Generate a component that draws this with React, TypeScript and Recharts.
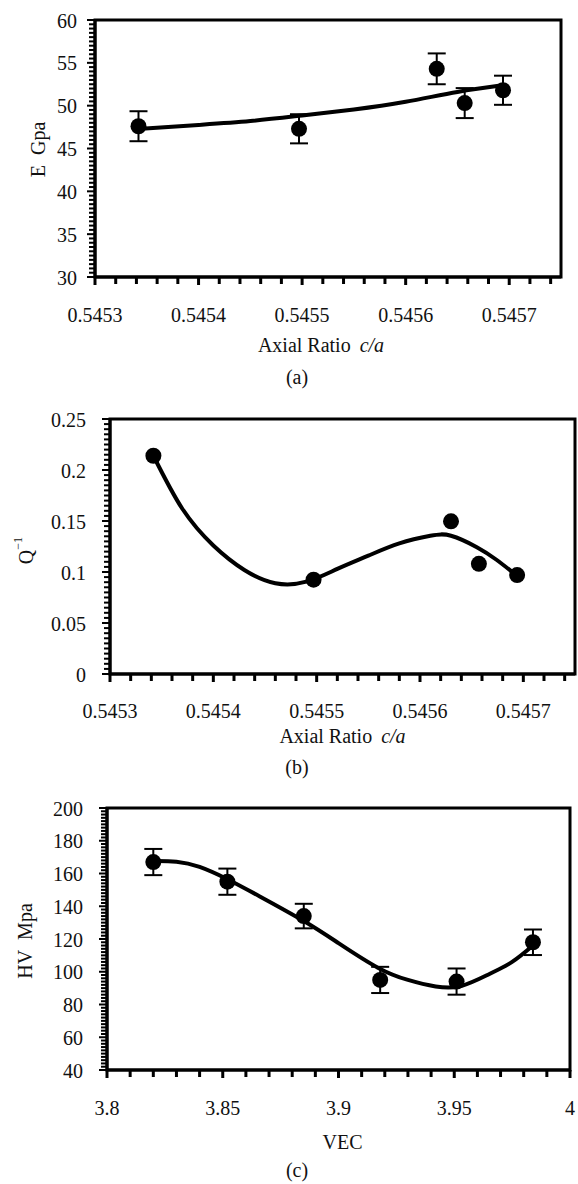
import React from "react";
import {
  ComposedChart,
  XAxis,
  YAxis,
  Line,
  Scatter,
  ErrorBar,
  ReferenceArea,
} from "recharts";

// (a) and (b): axial ratio c/a of the five samples
const axialRatio = [0.545342, 0.545497, 0.54563, 0.545657, 0.545694];
const modulusE = [47.6, 47.3, 54.3, 50.3, 51.8];
const modulusErr = [1.75, 1.7, 1.8, 1.75, 1.7];
const modulusFitX = [0.545345, 0.5454, 0.54545, 0.5455, 0.54555, 0.5456, 0.54565, 0.545695];
const modulusFitY = [47.3, 47.75, 48.2, 48.85, 49.55, 50.45, 51.6, 52.4];

const dampingQ = [0.214, 0.0925, 0.1497, 0.108, 0.097];
const dampingFitX = [
  0.545342, 0.54537, 0.5454, 0.54543, 0.54546, 0.54549, 0.54552, 0.54555,
  0.54558, 0.54561, 0.54563, 0.545655, 0.545674, 0.545693,
];
const dampingFitY = [
  0.214, 0.162, 0.126, 0.102, 0.089, 0.0905, 0.103, 0.116, 0.128, 0.1355,
  0.1355, 0.1243, 0.112, 0.097,
];

// (c): valence electron concentration
const vec = [3.82, 3.852, 3.885, 3.918, 3.951, 3.984];
const hardnessHV = [167, 155, 134, 95, 94, 118];
const hardnessErr = [8, 8, 7.5, 8, 8, 7.8];
const hardnessFitX = [3.82, 3.83, 3.84, 3.852, 3.866, 3.885, 3.9, 3.917, 3.93, 3.942, 3.953, 3.965, 3.975, 3.984];
const hardnessFitY = [167.6, 167.2, 164.0, 156.5, 146, 131, 117.5, 102.5, 95, 91, 91.3, 98.5, 106, 116];

// tick labels
const ratioTicks = [0.5453, 0.5454, 0.5455, 0.5456, 0.5457];
const modulusTicks = [30, 35, 40, 45, 50, 55, 60];
const dampingTicks = [0, 0.05, 0.1, 0.15, 0.2, 0.25];
const vecTicks = [3.8, 3.85, 3.9, 3.95, 4];
const hardnessTicks = [40, 60, 80, 100, 120, 140, 160, 180, 200];

const FONT = '"Liberation Serif", "Times New Roman", Times, serif';
const textStyle = { fontFamily: FONT, fontSize: 20, fill: "#111" };

const steps = (lo: number, hi: number, step: number) => {
  const n = Math.round((hi - lo) / step);
  return Array.from({ length: n + 1 }, (_, i) => +(lo + i * step).toFixed(8));
};

const zip = (xs: number[], ys: number[], es?: number[]) =>
  xs.map((x, i) => ({ x, y: ys[i], err: es ? es[i] : 0 }));

type PanelProps = {
  top: number;
  height: number;
  plot: { l: number; r: number; t: number; b: number };
  xDomain: [number, number];
  yDomain: [number, number];
  xMajor: number[];
  xMinor: number[];
  yMajor: number[];
  yMinor: number[];
  points: { x: number; y: number; err: number }[];
  fit: { x: number; y: number; err: number }[];
  withErr: boolean;
  xTitle: React.ReactNode;
  xTitleDx: number;
  xTitleDy: number;
  yTitle: React.ReactNode;
  yTitleX: number;
  yTitleDy: number;
  yGap: number;
  caption: string;
  captionDy: number;
  tickDy: number;
};

function Panel(p: PanelProps) {
  const W = 578;
  const xTol = (p.xMinor[1] - p.xMinor[0]) / 10;
  const yTol = (p.yMinor[1] - p.yMinor[0]) / 10;
  const xAxisH = p.top + p.height - p.plot.b;

  const xTick = (props: any) => {
    const { x, y, payload } = props;
    const major = p.xMajor.find((m) => Math.abs(m - payload.value) < xTol);
    return (
      <g>
        <line x1={x} x2={x} y1={y} y2={y + (major !== undefined ? 8 : 7)} stroke="#000" strokeWidth={3} />
        {major !== undefined && (
          <text x={x} y={y + p.tickDy} textAnchor="middle" style={textStyle}>
            {String(major)}
          </text>
        )}
      </g>
    );
  };

  const yTick = (props: any) => {
    const { x, y, payload } = props;
    const major = p.yMajor.find((m) => Math.abs(m - payload.value) < yTol);
    return (
      <g>
        <line x1={x - (major !== undefined ? 8 : 6)} x2={x} y1={y} y2={y} stroke="#000" strokeWidth={2} />
        {major !== undefined && (
          <text x={x - p.yGap} y={y + 7.5} textAnchor="end" style={textStyle}>
            {String(major)}
          </text>
        )}
      </g>
    );
  };

  const xLabel = (props: any) => {
    const vb = props.viewBox || {};
    const vx = vb.x ?? p.plot.l;
    const vw = vb.width ?? p.plot.r - p.plot.l;
    const vy = vb.y ?? p.plot.b - p.top;
    return (
      <g>
        <text x={vx + vw / 2 + p.xTitleDx} y={vy + p.xTitleDy} textAnchor="middle" style={textStyle}>
          {p.xTitle}
        </text>
        <text x={297} y={vy + p.captionDy} textAnchor="middle" style={textStyle}>
          {p.caption}
        </text>
      </g>
    );
  };

  const yLabel = (props: any) => {
    const vb = props.viewBox || {};
    const vy = vb.y ?? p.plot.t - p.top;
    const vh = vb.height ?? p.plot.b - p.plot.t;
    const cy = vy + vh / 2 + p.yTitleDy;
    return (
      <text
        x={p.yTitleX}
        y={cy}
        transform={`rotate(-90 ${p.yTitleX} ${cy})`}
        textAnchor="middle"
        dominantBaseline="central"
        style={textStyle}
      >
        {p.yTitle}
      </text>
    );
  };

  const dot = (props: any) => <circle cx={props.cx} cy={props.cy} r={8} fill="#000" />;

  return (
    <div style={{ position: "absolute", left: 0, top: p.top, width: W, height: p.height }}>
      <ComposedChart
        width={W}
        height={p.height}
        margin={{ top: p.plot.t - p.top, right: W - p.plot.r, left: 0, bottom: 0 }}
      >
        <XAxis
          type="number"
          dataKey="x"
          domain={p.xDomain}
          ticks={p.xMinor}
          interval={0}
          allowDataOverflow
          height={xAxisH}
          tickSize={0}
          tickMargin={0}
          tickLine={false}
          tick={xTick}
          axisLine={{ stroke: "#000", strokeWidth: 3 }}
          label={xLabel}
        />
        <YAxis
          type="number"
          dataKey="y"
          domain={p.yDomain}
          ticks={p.yMinor}
          interval={0}
          allowDataOverflow
          width={p.plot.l}
          tickSize={0}
          tickMargin={0}
          tickLine={false}
          tick={yTick}
          axisLine={{ stroke: "#000", strokeWidth: 3 }}
          label={yLabel}
        />
        <ReferenceArea
          x1={p.xDomain[0]}
          x2={p.xDomain[1]}
          y1={p.yDomain[0]}
          y2={p.yDomain[1]}
          fill="none"
          fillOpacity={0}
          stroke="#000"
          strokeWidth={3}
        />
        <Line
          data={p.fit}
          dataKey="y"
          type="natural"
          stroke="#000"
          strokeWidth={4}
          dot={false}
          activeDot={false}
          isAnimationActive={false}
        />
        <Scatter data={p.points} dataKey="y" shape={dot} isAnimationActive={false}>
          {p.withErr && <ErrorBar dataKey="err" direction="y" width={9} strokeWidth={2} stroke="#000" />}
        </Scatter>
      </ComposedChart>
    </div>
  );
}

const axialTitle = (
  <>
    Axial Ratio{" "}
    <tspan dx={4} fontStyle="italic">
      c/a
    </tspan>
  </>
);

export default function App() {
  return (
    <div
      style={{
        position: "absolute",
        left: 0,
        top: 0,
        width: 578,
        height: 1184,
        background: "#fff",
        fontFamily: FONT,
      }}
    >
      <Panel
        top={0}
        height={392}
        plot={{ l: 95, r: 561, t: 20, b: 277 }}
        xDomain={[0.5453, 0.54575]}
        yDomain={[30, 60]}
        xMajor={ratioTicks}
        xMinor={steps(0.5453, 0.54574, 0.00002)}
        yMajor={modulusTicks}
        yMinor={steps(30, 60, 0.5)}
        points={zip(axialRatio, modulusE, modulusErr)}
        fit={zip(modulusFitX, modulusFitY)}
        withErr
        xTitle={axialTitle}
        xTitleDx={-7}
        xTitleDy={75}
        yTitle={"E\u00a0\u00a0Gpa"}
        yTitleX={38}
        yTitleDy={1}
        yGap={18}
        caption="(a)"
        captionDy={107}
        tickDy={45}
      />
      <Panel
        top={392}
        height={390}
        plot={{ l: 110, r: 575, t: 419, b: 674 }}
        xDomain={[0.5453, 0.54575]}
        yDomain={[0, 0.25]}
        xMajor={ratioTicks}
        xMinor={steps(0.5453, 0.54574, 0.00002)}
        yMajor={dampingTicks}
        yMinor={steps(0, 0.25, 0.005)}
        points={zip(axialRatio, dampingQ)}
        fit={zip(dampingFitX, dampingFitY)}
        withErr={false}
        xTitle={axialTitle}
        xTitleDx={0}
        xTitleDy={69}
        yTitle={
          <>
            Q
            <tspan dy={-8} fontSize={12}>
              −1
            </tspan>
          </>
        }
        yTitleX={26}
        yTitleDy={4}
        yGap={24}
        caption="(b)"
        captionDy={100}
        tickDy={44}
      />
      <Panel
        top={782}
        height={402}
        plot={{ l: 107, r: 570, t: 808, b: 1070 }}
        xDomain={[3.8, 4]}
        yDomain={[40, 200]}
        xMajor={vecTicks}
        xMinor={steps(3.8, 4, 0.01)}
        yMajor={hardnessTicks}
        yMinor={steps(40, 200, 2)}
        points={zip(vec, hardnessHV, hardnessErr)}
        fit={zip(hardnessFitX, hardnessFitY)}
        withErr
        xTitle="VEC"
        xTitleDx={4}
        xTitleDy={79}
        yTitle={"HV\u00a0\u00a0Mpa"}
        yTitleX={25}
        yTitleDy={2}
        yGap={24}
        caption="(c)"
        captionDy={107}
        tickDy={45}
      />
    </div>
  );
}
